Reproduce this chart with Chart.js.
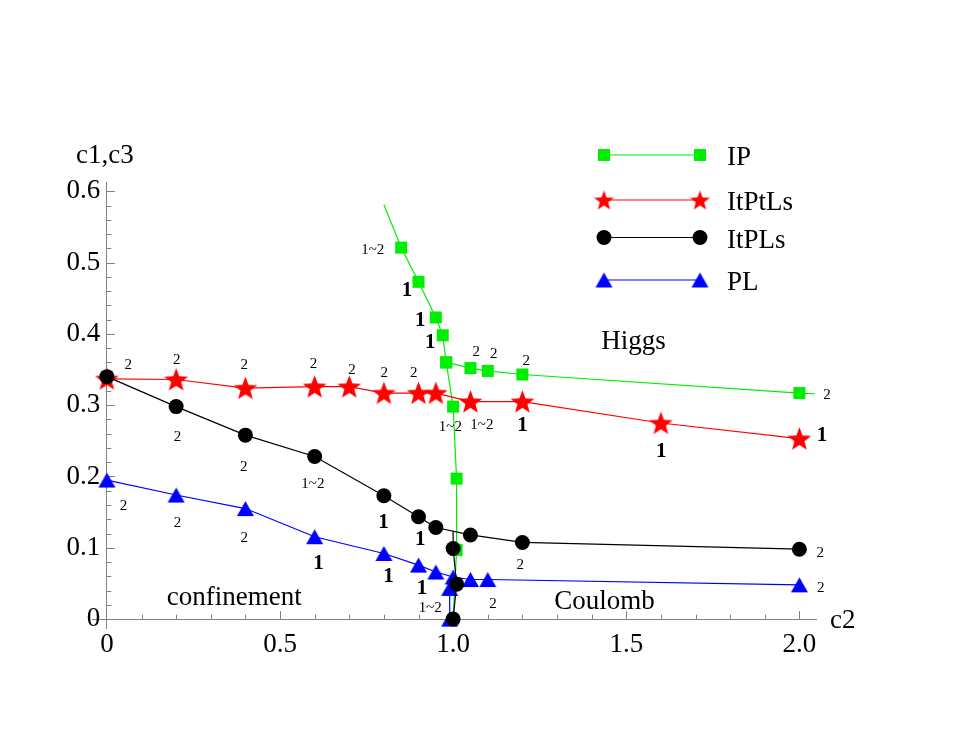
<!DOCTYPE html>
<html>
<head>
<meta charset="utf-8">
<script src="https://cdn.jsdelivr.net/npm/chart.js@4.4.0/dist/chart.umd.min.js"></script>
<style>
  html, body { margin: 0; padding: 0; background: #fff; }
  canvas { display: block; }
</style>
</head>
<body>
<canvas id="chart" width="980" height="739"></canvas>
<script>
// phase diagram: c1,c3 against c2

const xTicks = [0, 0.5, 1.0, 1.5, 2.0];
const xTickLabels = ["0", "0.5", "1.0", "1.5", "2.0"];
const yTicks = [0, 0.1, 0.2, 0.3, 0.4, 0.5, 0.6];
const yTickLabels = ["0", "0.1", "0.2", "0.3", "0.4", "0.5", "0.6"];

const seriesNames = ["IP", "ItPtLs", "ItPLs", "PL"];

// IP: steep branch down to c2 = 1, plus the Higgs branch
const ipC2 = [0.80, 0.85, 0.90, 0.95, 0.97, 0.98, 1.00, 1.01, 1.01, 1.00];
const ipC = [0.581, 0.521, 0.473, 0.423, 0.398, 0.360, 0.298, 0.197, 0.097, 0.0];
const ipBare = [0, 9];
const ipHiggsC2 = [0.98, 1.05, 1.10, 1.20, 2.00, 2.045];
const ipHiggsC = [0.360, 0.352, 0.348, 0.343, 0.317, 0.316];
const ipHiggsBare = [5];

const itptlsC2 = [0, 0.2, 0.4, 0.6, 0.7, 0.8, 0.9, 0.95, 1.05, 1.2, 1.6, 2.0];
const itptlsC = [0.337, 0.336, 0.324, 0.326, 0.326, 0.317, 0.317, 0.317, 0.305, 0.305, 0.275, 0.253];

const itplsC2 = [0, 0.2, 0.4, 0.6, 0.8, 0.9, 0.95, 1.05, 1.2, 2.0];
const itplsC = [0.340, 0.298, 0.258, 0.228, 0.173, 0.1435, 0.1285, 0.118, 0.1075, 0.098];
const itplsDropC2 = [1.0, 1.0, 1.01, 1.0];
const itplsDropC = [0.123, 0.099, 0.049, 0.0];
const itplsDropBare = [0];

const plC2 = [0, 0.2, 0.4, 0.6, 0.8, 0.9, 0.95, 1.0, 1.05, 1.1, 2.0];
const plC = [0.195, 0.174, 0.155, 0.1155, 0.092, 0.0757, 0.066, 0.059, 0.0555, 0.0555, 0.048];
const plDropC2 = [1.0, 0.99, 0.99];
const plDropC = [0.059, 0.043, 0.0];
const plDropBare = [0];

// small order marks next to the points: [c2, c, text]
const ipNotes = [[0.768, 0.5175, "1~2"], [0.867, 0.461, "1"], [0.905, 0.419, "1"], [0.934, 0.388, "1"],
  [0.992, 0.269, "1~2"], [1.067, 0.375, "2"], [1.117, 0.372, "2"], [1.211, 0.362, "2"], [2.08, 0.314, "2"]];
const itptlsNotes = [[0.062, 0.356, "2"], [0.202, 0.363, "2"], [0.397, 0.356, "2"], [0.597, 0.358, "2"],
  [0.708, 0.349, "2"], [0.801, 0.345, "2"], [0.886, 0.345, "2"], [1.083, 0.272, "1~2"], [1.2, 0.272, "1"],
  [1.601, 0.235, "1"], [2.065, 0.258, "1"]];
const itplsNotes = [[0.204, 0.255, "2"], [0.395, 0.213, "2"], [0.595, 0.189, "1~2"], [0.799, 0.135, "1"],
  [0.905, 0.111, "1"], [1.194, 0.076, "2"], [2.06, 0.093, "2"]];
const plNotes = [[0.048, 0.158, "2"], [0.204, 0.134, "2"], [0.397, 0.113, "2"], [0.611, 0.078, "1"],
  [0.813, 0.059, "1"], [0.910, 0.043, "1"], [0.934, 0.016, "1~2"], [1.115, 0.021, "2"], [2.062, 0.044, "2"]];

const regionNames = ["confinement", "Coulomb", "Higgs"];
const regionC2 = [0.368, 1.437, 1.521];
const regionC = [0.0295, 0.0243, 0.389];

const serif = "'Liberation Serif', 'Times New Roman', serif";
const green = "#00ee00", red = "#ff0000", black = "#000000", blue = "#0000ff";
const gray = "#808080";

function pts(xs, ys) {
  return xs.map((x, i) => ({ x: x, y: ys[i] }));
}

function starImage(color, r) {
  const c = document.createElement("canvas");
  const s = Math.ceil(r * 2 + 2);
  c.width = s; c.height = s;
  const g = c.getContext("2d");
  g.fillStyle = color;
  g.beginPath();
  for (let i = 0; i < 10; i++) {
    const rad = i % 2 ? r * 0.42 : r;
    const a = -Math.PI / 2 + i * Math.PI / 5;
    g.lineTo(s / 2 + rad * Math.cos(a), s / 2 + 1 + rad * Math.sin(a));
  }
  g.closePath();
  g.fill();
  return c;
}

function triangleImage(color, w) {
  const h = w * 0.88;
  const c = document.createElement("canvas");
  c.width = Math.ceil(w + 2); c.height = Math.ceil(w + 2);
  const g = c.getContext("2d");
  const cx = c.width / 2, cy = c.height / 2;
  g.fillStyle = color;
  g.beginPath();
  g.moveTo(cx, cy - h / 2);
  g.lineTo(cx + w / 2, cy + h / 2);
  g.lineTo(cx - w / 2, cy + h / 2);
  g.closePath();
  g.fill();
  return c;
}

const starImg = starImage(red, 12.5);
const legendStar = starImage(red, 10.5);
const triImg = triangleImage(blue, 17);

function line(label, data, color, style, radius, bare, order) {
  return {
    label: label,
    data: data,
    showLine: true,
    borderColor: color,
    borderWidth: 1.2,
    backgroundColor: color,
    pointBackgroundColor: color,
    pointBorderWidth: 0,
    pointStyle: style,
    pointRadius: ctx => (bare.includes(ctx.dataIndex) ? 0 : radius),
    order: order,
    clip: false
  };
}

const datasets = [
  line(seriesNames[0], pts(ipC2, ipC), green, "rect", 8.5, ipBare, 3),
  line("", pts(ipHiggsC2, ipHiggsC), green, "rect", 8.5, ipHiggsBare, 3),
  line(seriesNames[1], pts(itptlsC2, itptlsC), red, starImg, 12, [], 2),
  line(seriesNames[2], pts(itplsC2, itplsC), black, "circle", 7.5, [], 0),
  line("", pts(itplsDropC2, itplsDropC), black, "circle", 7.5, itplsDropBare, 0),
  line(seriesNames[3], pts(plC2, plC), blue, triImg, 9, [], 1),
  line("", pts(plDropC2, plDropC), blue, triImg, 9, plDropBare, 1)
];

// Mathematica-style ticks pointing into the plot
const innerTicks = {
  id: "innerTicks",
  beforeDatasetsDraw(chart) {
    const { ctx, scales: { x, y } } = chart;
    const x0 = x.getPixelForValue(0), y0 = y.getPixelForValue(0);
    ctx.save();
    ctx.strokeStyle = gray;
    ctx.lineWidth = 1;
    ctx.beginPath();
    for (let i = 1; i <= 20; i++) {
      const px = Math.round(x.getPixelForValue(i / 10)) + 0.5;
      const len = i % 5 === 0 ? 8 : 4.5;
      ctx.moveTo(px, y0);
      ctx.lineTo(px, y0 - len);
    }
    for (let i = 1; i <= 30; i++) {
      const py = Math.round(y.getPixelForValue(i / 50)) + 0.5;
      const len = i % 5 === 0 ? 8 : 4.5;
      ctx.moveTo(x0, py);
      ctx.lineTo(x0 + len, py);
    }
    ctx.stroke();
    ctx.restore();
  }
};

const textMarks = {
  id: "textMarks",
  afterDatasetsDraw(chart) {
    const { ctx, scales: { x, y }, chartArea } = chart;
    ctx.save();
    ctx.fillStyle = "#000";
    ctx.textAlign = "center";
    ctx.textBaseline = "middle";
    [ipNotes, itptlsNotes, itplsNotes, plNotes].forEach(notes => {
      notes.forEach(([c2, c, t]) => {
        ctx.font = t === "1" ? "bold 21px " + serif : "15px " + serif;
        ctx.fillText(t, x.getPixelForValue(c2), y.getPixelForValue(c));
      });
    });
    ctx.font = "27px " + serif;
    regionNames.forEach((t, i) => {
      ctx.fillText(t, x.getPixelForValue(regionC2[i]), y.getPixelForValue(regionC[i]));
    });
    // axis names
    ctx.fillText("c1,c3", x.getPixelForValue(0) - 2, chartArea.top - 26);
    ctx.textAlign = "left";
    ctx.fillText("c2", chartArea.right + 14, y.getPixelForValue(0) + 2);

    // legend: line with a marker at each end
    const rows = [datasets[0], datasets[2], datasets[3], datasets[5]];
    const rowY = [155, 200, 237.5, 280];
    rows.forEach((ds, i) => {
      const ly = rowY[i];
      ctx.strokeStyle = ds.borderColor;
      ctx.lineWidth = ds.borderWidth;
      ctx.beginPath();
      ctx.moveTo(604, ly);
      ctx.lineTo(700, ly);
      ctx.stroke();
      ctx.fillStyle = ds.pointBackgroundColor;
      const style = ds.pointStyle === starImg ? legendStar : ds.pointStyle;
      [604, 700].forEach(lx => {
        Chart.helpers.drawPoint(ctx, { pointStyle: style, radius: style === "rect" ? 8.5 : 7.5, rotation: 0, borderWidth: 0 }, lx, ly);
      });
      ctx.fillStyle = "#000";
      ctx.fillText(ds.label, 727, ly + 3);
    });
    ctx.restore();
  }
};

new Chart(document.getElementById("chart"), {
  type: "scatter",
  data: { datasets: datasets },
  options: {
    responsive: false,
    devicePixelRatio: 1,
    animation: false,
    events: [],
    layout: { padding: { left: 92, right: 164, top: 182, bottom: 111 } },
    plugins: { legend: { display: false }, tooltip: { enabled: false } },
    scales: {
      x: {
        type: "linear",
        min: -0.043,
        max: 2.048,
        position: { y: 0 },
        grid: { display: false, drawTicks: false },
        border: { display: true, color: gray, width: 1 },
        afterBuildTicks: s => { s.ticks = xTicks.map(v => ({ value: v })); },
        ticks: {
          padding: 10,
          color: "#000",
          maxRotation: 0,
          autoSkip: false,
          font: { family: serif, size: 27 },
          callback: (v, i) => xTickLabels[i]
        }
      },
      y: {
        type: "linear",
        min: -0.0125,
        max: 0.613,
        position: { x: 0 },
        grid: { display: false, drawTicks: false },
        border: { display: true, color: gray, width: 1 },
        afterBuildTicks: s => { s.ticks = yTicks.map(v => ({ value: v })); },
        ticks: {
          padding: 7,
          color: "#000",
          autoSkip: false,
          font: { family: serif, size: 27 },
          callback: (v, i) => yTickLabels[i] + " "
        }
      }
    }
  },
  plugins: [innerTicks, textMarks]
});
</script>
</body>
</html>
